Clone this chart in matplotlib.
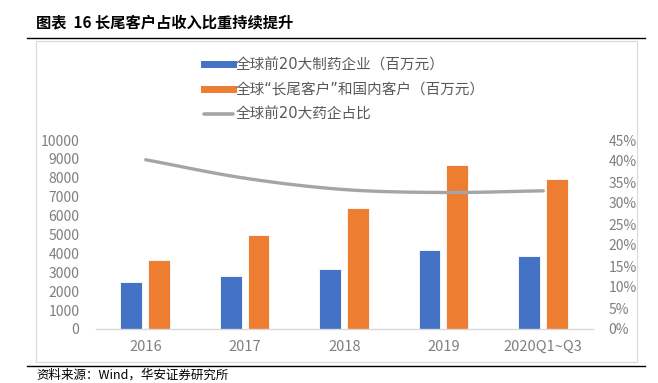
import matplotlib
matplotlib.use("Agg")
import matplotlib.pyplot as plt
import numpy as np
from matplotlib.lines import Line2D
from matplotlib.patches import Rectangle

plt.rcParams['font.family'] = ['Noto Sans CJK SC', 'DejaVu Sans']

categories = ["2016", "2017", "2018", "2019", "2020Q1~Q3"]
top20 = [2480, 2800, 3190, 4180, 3880]
longtail = [3650, 4960, 6420, 8680, 7920]
share = [40.3, 35.9, 33.2, 32.5, 32.9]

left_ticks = list(range(0, 10001, 1000))
right_ticks = list(range(0, 46, 5))

title = "图表  16 长尾客户占收入比重持续提升"
source = "资料来源：Wind，华安证券研究所"
labels = ["全球前20大制药企业（百万元）", "全球“长尾客户”和国内客户（百万元）", "全球前20大药企占比"]

BLUE = "#4472C4"
ORANGE = "#ED7D31"
GRAY = "#A5A5A5"
TXT = "#7F7F7F"

W, H = 658, 383
fig = plt.figure(figsize=(W / 100, H / 100), dpi=100)

def fx(px):
    return px / W

def fy(py):
    return 1 - py / H

# outer chart frame
fig.patches.append(Rectangle((fx(36), fy(362)), fx(637) - fx(36), fy(41) - fy(362),
                             transform=fig.transFigure, fill=False, edgecolor="#D9D9D9", lw=0.8))
# title + rules
fig.text(fx(36), fy(22), title, fontsize=11, fontweight="bold", va="center", ha="left", color="#000000")
fig.add_artist(Line2D([fx(27), fx(645)], [fy(37.5), fy(37.5)], color="#000000", lw=1.0))
fig.add_artist(Line2D([fx(27), fx(645)], [fy(365.5), fy(365.5)], color="#000000", lw=1.0))
fig.text(fx(36), fy(369), source, fontsize=9, va="top", ha="left", color="#000000")

ax = fig.add_axes([fx(96), fy(329), fx(593) - fx(96), fy(140) - fy(329)])
x = np.arange(len(categories))
bw = 0.22
ax.bar(x - 0.145, top20, width=bw, color=BLUE, edgecolor="white", linewidth=0.6, zorder=2)
ax.bar(x + 0.135, longtail, width=bw, color=ORANGE, edgecolor="white", linewidth=0.6, zorder=2)
ax.set_xlim(-0.5, len(categories) - 0.5)
ax.set_ylim(0, 10000)
ax.set_yticks(left_ticks)
ax.set_xticks(x)
ax.set_xticklabels(categories)
for s in ["top", "right", "left"]:
    ax.spines[s].set_visible(False)
ax.spines["bottom"].set_color("#D9D9D9")
ax.spines["bottom"].set_linewidth(1.0)
ax.tick_params(axis="both", length=0, labelsize=10, colors=TXT)
ax.tick_params(axis="x", pad=8, labelsize=10.5)
ax.tick_params(axis="y", pad=12)

ax2 = ax.twinx()
ax2.set_ylim(0, 45)
ax2.set_yticks(right_ticks)
ax2.set_yticklabels([f"{v}%" for v in right_ticks])
for s in ax2.spines.values():
    s.set_visible(False)
ax2.tick_params(axis="y", length=0, labelsize=10, colors=TXT, pad=11)

# smoothed line (Catmull-Rom through data points)
xs = x.astype(float)
ys = np.array(share, dtype=float)
px = np.concatenate([[2 * xs[0] - xs[1]], xs, [2 * xs[-1] - xs[-2]]])
py = np.concatenate([[2 * ys[0] - ys[1]], ys, [2 * ys[-1] - ys[-2]]])
cx, cy = [], []
t = np.linspace(0, 1, 30)
for i in range(1, len(px) - 2):
    p0, p1, p2, p3 = (np.array([px[j], py[j]]) for j in range(i - 1, i + 3))
    for tt in t:
        pt = 0.5 * ((2 * p1) + (-p0 + p2) * tt + (2 * p0 - 5 * p1 + 4 * p2 - p3) * tt ** 2
                    + (-p0 + 3 * p1 - 3 * p2 + p3) * tt ** 3)
        cx.append(pt[0]); cy.append(pt[1])
ax2.plot(cx, cy, color=GRAY, lw=2.4, solid_capstyle="round", zorder=3)

# legend
handles = [Line2D([0], [0], color=BLUE, lw=5),
           Line2D([0], [0], color=ORANGE, lw=5),
           Line2D([0], [0], color=GRAY, lw=2.6, solid_capstyle="round")]
leg = fig.legend(handles, labels, loc="upper left", bbox_to_anchor=(fx(191), fy(44)),
                 frameon=False, handlelength=2.0, handletextpad=0.15,
                 labelspacing=0.68, labelcolor="#595959",
                 prop={'family': ['DejaVu Sans', 'Noto Sans CJK SC'], 'size': 10.5})

fig.savefig("out.png", dpi=100)
